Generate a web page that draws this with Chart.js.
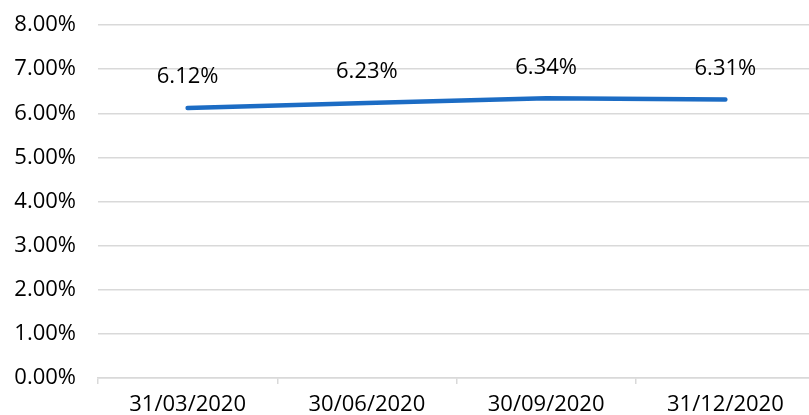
<!DOCTYPE html>
<html>
<head>
<meta charset="utf-8">
<script src="https://cdn.jsdelivr.net/npm/chart.js@4.4.1/dist/chart.umd.min.js"></script>
<style>
  html, body { margin: 0; padding: 0; background: #fff; overflow: hidden; }
  #wrap { width: 809px; height: 415px; overflow: hidden; }
</style>
</head>
<body>
<div id="wrap"><canvas id="rates" width="815" height="415"></canvas></div>
<script>
const dates = ['31/03/2020', '30/06/2020', '30/09/2020', '31/12/2020'];
const rateValues = [6.12, 6.23, 6.34, 6.31];
const yMin = 0;
const yMax = 8;
const yStep = 1;

const gridColor = '#d9d9d9';
const lineColor = '#1c6cc4';
const textFont = { family: "'Open Sans', 'Noto Sans', sans-serif", size: 22 };

// draws the value above each point
const valueLabels = {
  id: 'valueLabels',
  afterDatasetsDraw(chart) {
    const { ctx } = chart;
    const meta = chart.getDatasetMeta(0);
    ctx.save();
    ctx.font = "22px 'Open Sans', 'Noto Sans', sans-serif";
    ctx.fillStyle = '#000';
    ctx.textAlign = 'center';
    ctx.textBaseline = 'middle';
    meta.data.forEach((pt, i) => {
      ctx.fillText(rateValues[i].toFixed(2) + '%', pt.x, pt.y - 31);
    });
    ctx.restore();
  }
};

const config = {
  type: 'line',
  data: {
    labels: dates,
    datasets: [{
      data: rateValues,
      borderColor: lineColor,
      borderWidth: 4.5,
      borderCapStyle: 'round',
      borderJoinStyle: 'round',
      pointRadius: 0,
      tension: 0,
      fill: false
    }]
  },
  options: {
    responsive: false,
    animation: false,
    layout: { padding: { top: 25, left: 0, right: 0, bottom: 0 } },
    plugins: {
      legend: { display: false },
      tooltip: { enabled: false }
    },
    scales: {
      x: {
        offset: true,
        grid: {
          offset: true,
          drawOnChartArea: false,
          drawTicks: true,
          tickLength: 6,
          color: gridColor,
          lineWidth: 1.5
        },
        border: { display: true, color: gridColor, width: 1.5 },
        ticks: {
          color: '#000',
          font: textFont,
          padding: 8,
          maxRotation: 0,
          autoSkip: false
        },
        afterFit(scale) { scale.height = 37; }
      },
      y: {
        min: yMin,
        max: yMax,
        grid: {
          drawTicks: false,
          color: gridColor,
          lineWidth: 1.5
        },
        border: { display: false },
        ticks: {
          stepSize: yStep,
          color: '#000',
          font: textFont,
          padding: 22,
          callback: v => v.toFixed(2) + '%'
        },
        afterFit(scale) {
          scale.width = 98;
          scale.paddingTop = 0;
          scale.paddingBottom = 0;
        }
      }
    }
  },
  plugins: [valueLabels]
};

new Chart(document.getElementById('rates'), config);
</script>
</body>
</html>
